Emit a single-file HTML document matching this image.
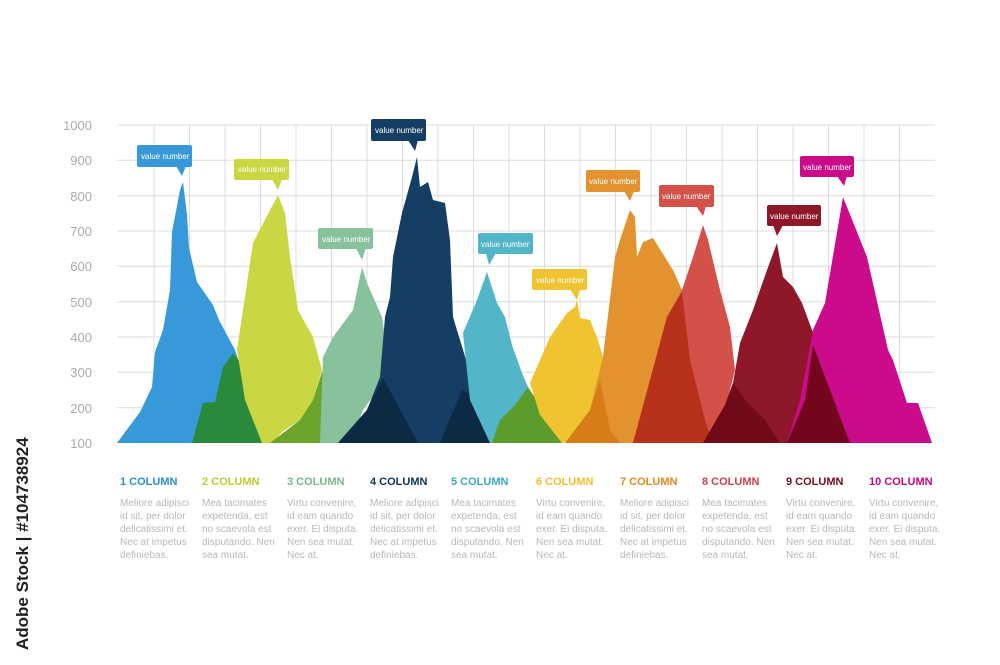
<!DOCTYPE html>
<html><head><meta charset="utf-8"><style>
body{margin:0;background:#fff;}
svg{display:block;font-family:"Liberation Sans",sans-serif;}
.h{font-weight:bold;font-size:11px;}
.b{font-size:10px;fill:#b8b8b8;}
.c{font-size:8px;fill:#fff;}
.ax{font-size:13px;fill:#aaa;}
</style></head><body>
<svg width="1000" height="665" viewBox="0 0 1000 665">
<g stroke="#dcdcdc" stroke-width="1">
<line x1="117" y1="125" x2="935" y2="125"/><line x1="117" y1="160.3" x2="935" y2="160.3"/><line x1="117" y1="195.7" x2="935" y2="195.7"/><line x1="117" y1="231" x2="935" y2="231"/><line x1="117" y1="266.3" x2="935" y2="266.3"/><line x1="117" y1="301.7" x2="935" y2="301.7"/><line x1="117" y1="337" x2="935" y2="337"/><line x1="117" y1="372.3" x2="935" y2="372.3"/><line x1="117" y1="407.7" x2="935" y2="407.7"/>
<line x1="154" y1="125" x2="154" y2="443"/><line x1="189.5" y1="125" x2="189.5" y2="443"/><line x1="225" y1="125" x2="225" y2="443"/><line x1="260.5" y1="125" x2="260.5" y2="443"/><line x1="296" y1="125" x2="296" y2="443"/><line x1="331.5" y1="125" x2="331.5" y2="443"/><line x1="367" y1="125" x2="367" y2="443"/><line x1="402.5" y1="125" x2="402.5" y2="443"/><line x1="438" y1="125" x2="438" y2="443"/><line x1="473.5" y1="125" x2="473.5" y2="443"/><line x1="509" y1="125" x2="509" y2="443"/><line x1="544.5" y1="125" x2="544.5" y2="443"/><line x1="580" y1="125" x2="580" y2="443"/><line x1="615.5" y1="125" x2="615.5" y2="443"/><line x1="651" y1="125" x2="651" y2="443"/><line x1="686.5" y1="125" x2="686.5" y2="443"/><line x1="722" y1="125" x2="722" y2="443"/><line x1="757.5" y1="125" x2="757.5" y2="443"/><line x1="793" y1="125" x2="793" y2="443"/><line x1="828.5" y1="125" x2="828.5" y2="443"/><line x1="864" y1="125" x2="864" y2="443"/><line x1="899.5" y1="125" x2="899.5" y2="443"/>
</g>
<g class="ax" text-anchor="end">
<text x="92" y="130">1000</text><text x="92" y="165">900</text><text x="92" y="201">800</text><text x="92" y="236">700</text><text x="92" y="271">600</text><text x="92" y="307">500</text><text x="92" y="342">400</text><text x="92" y="377">300</text><text x="92" y="413">200</text><text x="92" y="448">100</text>
</g>
<!-- peaks -->
<polygon fill="#3899da" points="117,443 140,412 152,387 155,352 163,330 170,290 172,232 180,190 183,182 187,215 189,248 197,282 213,305 219,320 235,350 245,380 262,443"/>
<polygon fill="#2a8a3c" points="192,443 203,403 215,402 223,367 233,353 250,375 262,410 272,443"/>
<polygon fill="#cad742" points="262,443 245,400 237,350 253,243 258,233 278,195 285,213 290,257 298,310 313,337 322,370 313,400 300,420 282,432 273,443"/>
<polygon fill="#6ba42a" points="270,443 287,430 300,420 313,400 322,372 333,395 345,443"/>
<polygon fill="#88c29d" points="320,443 323,357 333,337 353,310 362,267 367,283 382,317 386,345 387,377 363,410 353,437 345,443"/>
<polygon fill="#143e63" points="338,443 367,410 380,377 385,317 390,297 393,257 402,213 412,177 417,157 420,187 428,182 433,200 445,203 450,240 453,317 460,340 467,363 477,397 493,443"/>
<polygon fill="#0c2a44" points="338,443 367,410 383,378 395,400 418,443"/>
<polygon fill="#0c2a44" points="440,443 462,390 477,397 493,443"/>
<polygon fill="#52b5c8" points="470,400 463,333 477,300 487,272 497,303 505,317 512,345 522,373 528,387 510,425 495,443 490,443"/>
<polygon fill="#5c9c2c" points="492,443 500,420 515,405 528,387 543,410 562,443"/>
<polygon fill="#f0c431" points="562,443 540,415 530,383 550,337 567,313 575,307 577,300 580,318 590,320 597,337 603,357 600,380 590,410 572,440"/>
<polygon fill="#e2922e" points="600,443 590,410 603,357 615,257 620,240 630,210 635,217 637,257 643,242 653,238 673,270 682,290 690,330 700,400 705,443"/>
<polygon fill="#d87c18" points="565,443 590,410 600,380 610,430 620,443"/>
<polygon fill="#d4514a" points="633,443 650,380 667,317 682,290 693,257 703,225 708,240 720,290 730,327 735,370 725,410 713,443"/>
<polygon fill="#b8311a" points="633,443 650,380 667,317 682,292 690,360 705,420 713,443"/>
<polygon fill="#8e1829" points="703,443 725,405 733,383 740,343 753,310 767,270 777,243 783,277 793,287 802,303 812,330 820,353 833,390 857,443"/>
<polygon fill="#700a18" points="703,443 725,405 733,383 745,400 765,420 780,443"/>
<polygon fill="#cc0b8b" points="787,443 800,400 813,330 825,303 843,197 867,257 888,350 893,360 907,403 918,403 932,443"/>
<polygon fill="#73061c" points="787,443 805,400 813,345 830,390 850,443"/>
<!-- callouts -->
<g class="c">
<rect x="137" y="145" width="55" height="22" rx="2" fill="#3899da"/><polygon points="176,166 186,166 182,176" fill="#3899da"/><text x="141" y="159">value number</text>
<rect x="234" y="159" width="55" height="21" rx="2" fill="#cad742"/><polygon points="272,179 282,179 278,190" fill="#cad742"/><text x="238" y="172">value number</text>
<rect x="318" y="228" width="55" height="21" rx="2" fill="#88c29d"/><polygon points="356,248 366,248 362,260" fill="#88c29d"/><text x="322" y="242">value number</text>
<rect x="371" y="119" width="55" height="22" rx="2" fill="#143e63"/><polygon points="408,140 418,140 415,151" fill="#143e63"/><text x="375" y="133">value number</text>
<rect x="478" y="233" width="55" height="21" rx="2" fill="#52b5c8"/><polygon points="486,253 496,253 489,265" fill="#52b5c8"/><text x="481" y="247">value number</text>
<rect x="532" y="269" width="55" height="21" rx="2" fill="#f0c431"/><polygon points="570,289 580,289 577,300" fill="#f0c431"/><text x="536" y="283">value number</text>
<rect x="586" y="170" width="54" height="22" rx="2" fill="#e2922e"/><polygon points="624,191 634,191 630,201" fill="#e2922e"/><text x="589" y="184">value number</text>
<rect x="659" y="185" width="55" height="22" rx="2" fill="#d4514a"/><polygon points="696,206 706,206 703,216" fill="#d4514a"/><text x="662" y="199">value number</text>
<rect x="767" y="205" width="54" height="21" rx="2" fill="#8e1829"/><polygon points="773,225 783,225 777,236" fill="#8e1829"/><text x="770" y="219">value number</text>
<rect x="800" y="156" width="54" height="21" rx="2" fill="#cc0b8b"/><polygon points="837,176 847,176 844,186" fill="#cc0b8b"/><text x="803" y="170">value number</text>
</g>
<!-- legend -->
<g class="h">
<text x="120" y="485" fill="#2a8fd0">1 COLUMN</text>
<text x="202" y="485" fill="#bccd2e">2 COLUMN</text>
<text x="287" y="485" fill="#7ab890">3 COLUMN</text>
<text x="370" y="485" fill="#0f3358">4 COLUMN</text>
<text x="451" y="485" fill="#3aaac0">5 COLUMN</text>
<text x="536" y="485" fill="#f0c030">6 COLUMN</text>
<text x="620" y="485" fill="#e08a20">7 COLUMN</text>
<text x="702" y="485" fill="#d0404a">8 COLUMN</text>
<text x="786" y="485" fill="#7a0c20">9 COLUMN</text>
<text x="869" y="485" fill="#c8087e">10 COLUMN</text>
</g>
<g class="b">
<text x="120" y="506">Meliore adipisci</text><text x="120" y="519">id sit, per dolor</text><text x="120" y="532">delicatissimi et.</text><text x="120" y="545">Nec at impetus</text><text x="120" y="558">definiebas.</text>
<text x="202" y="506">Mea tacimates</text><text x="202" y="519">expetenda, est</text><text x="202" y="532">no scaevola est</text><text x="202" y="545">disputando. Nen</text><text x="202" y="558">sea mutat.</text>
<text x="287" y="506">Virtu convenire,</text><text x="287" y="519">id eam quando</text><text x="287" y="532">exer. Ei disputa.</text><text x="287" y="545">Nen sea mutat.</text><text x="287" y="558">Nec at.</text>
<text x="370" y="506">Meliore adipisci</text><text x="370" y="519">id sit, per dolor</text><text x="370" y="532">delicatissimi et.</text><text x="370" y="545">Nec at impetus</text><text x="370" y="558">definiebas.</text>
<text x="451" y="506">Mea tacimates</text><text x="451" y="519">expetenda, est</text><text x="451" y="532">no scaevola est</text><text x="451" y="545">disputando. Nen</text><text x="451" y="558">sea mutat.</text>
<text x="536" y="506">Virtu convenire,</text><text x="536" y="519">id eam quando</text><text x="536" y="532">exer. Ei disputa.</text><text x="536" y="545">Nen sea mutat.</text><text x="536" y="558">Nec at.</text>
<text x="620" y="506">Meliore adipisci</text><text x="620" y="519">id sit, per dolor</text><text x="620" y="532">delicatissimi et.</text><text x="620" y="545">Nec at impetus</text><text x="620" y="558">definiebas.</text>
<text x="702" y="506">Mea tacimates</text><text x="702" y="519">expetenda, est</text><text x="702" y="532">no scaevola est</text><text x="702" y="545">disputando. Nen</text><text x="702" y="558">sea mutat.</text>
<text x="786" y="506">Virtu convenire,</text><text x="786" y="519">id eam quando</text><text x="786" y="532">exer. Ei disputa.</text><text x="786" y="545">Nen sea mutat.</text><text x="786" y="558">Nec at.</text>
<text x="869" y="506">Virtu convenire,</text><text x="869" y="519">id eam quando</text><text x="869" y="532">exer. Ei disputa.</text><text x="869" y="545">Nen sea mutat.</text><text x="869" y="558">Nec at.</text>
</g>
<text transform="translate(28,650) rotate(-90)" font-size="17" font-weight="bold" fill="#222">Adobe Stock | #104738924</text>
</svg>
</body></html>
